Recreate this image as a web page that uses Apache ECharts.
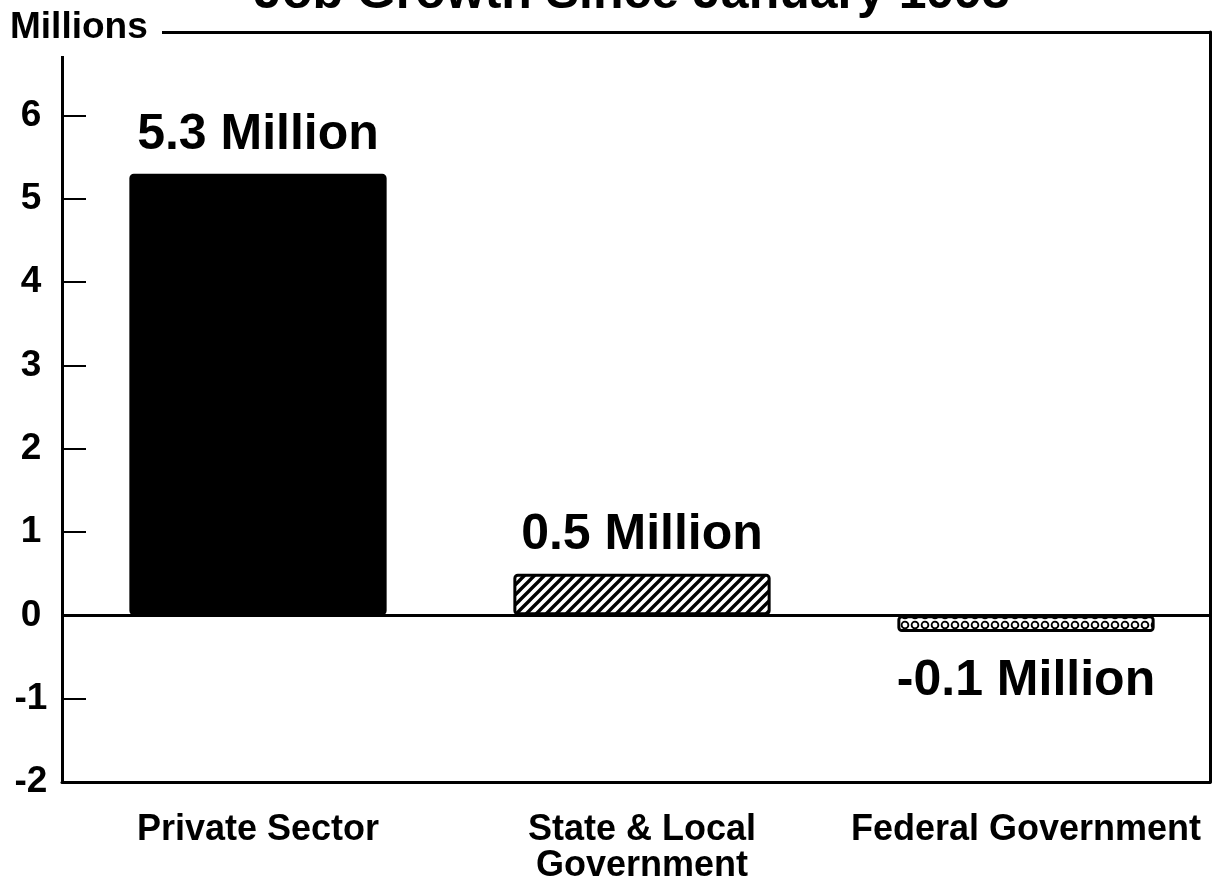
<!DOCTYPE html>
<html><head><meta charset="utf-8">
<script src="https://cdn.jsdelivr.net/npm/echarts@6/dist/echarts.min.js"></script>
<style>html,body{margin:0;padding:0;background:#fff}#c{width:1228px;height:891px}</style>
</head><body><div id="c"></div>
<script>
const titleText = 'Job Growth Since January 1993';
const yAxisName = 'Millions';
const categories = ['Private Sector', 'State & Local\nGovernment', 'Federal Government'];
const values = [5.3, 0.5, -0.2];
const valueLabels = ['5.3 Million', '0.5 Million', '-0.1 Million'];
const yMin = -2, yMax = 7, yInterval = 1;
const yTickLabels = ['-2', '-1', '0', '1', '2', '3', '4', '5', '6'];

const FONT = '"Liberation Sans", Arial, Helvetica, sans-serif';

function hatchPattern() {
  const c = document.createElement('canvas');
  c.width = c.height = 10;
  const g = c.getContext('2d');
  g.fillStyle = '#fff'; g.fillRect(0, 0, 10, 10);
  g.strokeStyle = '#000'; g.lineWidth = 3.4;
  g.beginPath();
  g.moveTo(-5, 5); g.lineTo(5, -5);
  g.moveTo(0, 10); g.lineTo(10, 0);
  g.moveTo(5, 15); g.lineTo(15, 5);
  g.stroke();
  return c;
}
function dotPattern() {
  const c = document.createElement('canvas');
  c.width = c.height = 10;
  const g = c.getContext('2d');
  g.fillStyle = '#fff'; g.fillRect(0, 0, 10, 10);
  g.strokeStyle = '#000'; g.lineWidth = 1.8;
  g.beginPath(); g.arc(5, 5, 3.4, 0, Math.PI * 2); g.stroke();
  return c;
}
const fills = ['#000', { image: hatchPattern(), repeat: 'repeat' }, { image: dotPattern(), repeat: 'repeat' }];

const chart = echarts.init(document.getElementById('c'), null, { renderer: 'canvas' });
const axisLine = { show: true, onZero: false, lineStyle: { color: '#000', width: 3 } };

chart.setOption({
  animation: false,
  backgroundColor: '#fff',
  textStyle: { fontFamily: FONT },
  grid: [
    { left: 62, right: 18, top: 32, bottom: 109, containLabel: false },
    { left: 66, right: 10, top: 32, bottom: 109, containLabel: false }
  ],
  xAxis: [
    { gridIndex: 0, type: 'category', data: categories, position: 'bottom', axisLine: axisLine,
      axisTick: { show: false }, axisLabel: { show: false } },
    { gridIndex: 0, type: 'category', data: categories, position: 'top', axisLine: axisLine,
      axisTick: { show: false }, axisLabel: { show: false } },
    { gridIndex: 1, type: 'category', data: categories, position: 'bottom',
      axisLine: { show: false, onZero: false }, axisTick: { show: false },
      axisLabel: { interval: 0, color: '#000', fontSize: 36, fontWeight: 'bold', lineHeight: 36, margin: 30, fontFamily: FONT } }
  ],
  yAxis: [
    { gridIndex: 0, type: 'value', min: yMin, max: yMax, interval: yInterval, position: 'left',
      axisLine: axisLine,
      axisTick: { show: true, inside: true, length: 24, lineStyle: { color: '#000', width: 2 } },
      axisLabel: { color: '#000', fontSize: 37, fontWeight: 'bold', align: 'center', margin: 31, fontFamily: FONT,
        formatter: (v) => { const i = Math.round((v - yMin) / yInterval); return yTickLabels[i] || ''; } },
      splitLine: { show: false } },
    { gridIndex: 0, type: 'value', min: yMin, max: yMax, interval: yInterval, position: 'right',
      axisLine: axisLine, axisTick: { show: false }, axisLabel: { show: false }, splitLine: { show: false } },
    { gridIndex: 1, type: 'value', min: yMin, max: yMax, interval: yInterval, show: false, splitLine: { show: false } }
  ],
  series: [
    {
      type: 'bar', xAxisIndex: 2, yAxisIndex: 2,
      barWidth: '67%',
      data: values.map((v, i) => ({
        value: v,
        itemStyle: { color: fills[i] },
        label: { position: v < 0 ? 'bottom' : 'top', distance: v < 0 ? 24 : 13 }
      })),
      itemStyle: { borderColor: '#000', borderWidth: 3, borderRadius: 3 },
      label: { show: true, color: '#000', fontSize: 50, fontWeight: 'bold', fontFamily: FONT,
        formatter: (p) => valueLabels[p.dataIndex] },
      z: 3
    },
    {
      type: 'line', xAxisIndex: 0, yAxisIndex: 0, data: [], silent: true,
      markLine: { silent: true, symbol: 'none', label: { show: false },
        lineStyle: { color: '#000', width: 3, type: 'solid' }, data: [{ yAxis: 0 }] },
      z: 4
    }
  ],
  graphic: [
    { type: 'rect', shape: { x: 50, y: 20, width: 112, height: 36 }, style: { fill: '#fff' }, z: 100 },
    { type: 'text', z: 101, style: { x: 10, y: 28, text: yAxisName, font: 'bold 37px ' + FONT, fill: '#000', verticalAlign: 'middle', align: 'left' } },
    { type: 'text', z: 101, style: { x: 632, y: -6, text: titleText, font: 'bold 50px ' + FONT, fill: '#000', verticalAlign: 'middle', align: 'center' } }
  ]
});
</script>
</body></html>
